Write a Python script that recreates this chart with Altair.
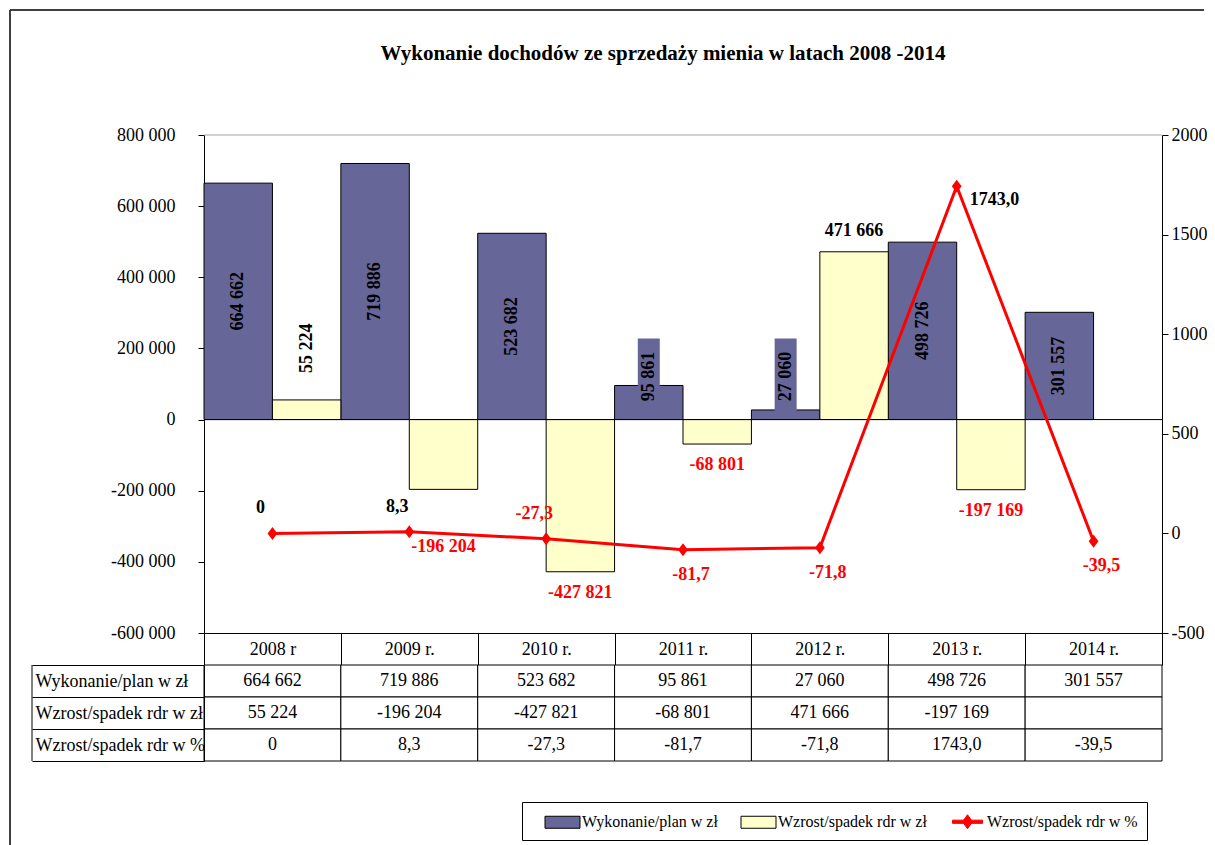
import altair as alt
import pandas as pd

# ---------------- data ----------------
years = ["2008 r", "2009 r.", "2010 r.", "2011 r.", "2012 r.", "2013 r.", "2014 r."]
wykonanie = [664662, 719886, 523682, 95861, 27060, 498726, 301557]
wzrost_zl = [55224, -196204, -427821, -68801, 471666, -197169, None]
wzrost_pct = [0.0, 8.3, -27.3, -81.7, -71.8, 1743.0, -39.5]

S_WYK = "Wykonanie/plan w zł"
S_ZL = "Wzrost/spadek rdr w zł"
S_PCT = "Wzrost/spadek rdr w %"
series_names = [S_WYK, S_ZL, S_PCT]

TITLE = "Wykonanie dochodów ze sprzedaży mienia w latach 2008 -2014"

# ---------------- style ----------------
FONT = "Liberation Serif"
DARK, YELLOW, RED = "#666699", "#FFFFCC", "#FF0000"
series_colors = [DARK, YELLOW, RED]
RECT_SYM = "M-1.75,-0.6H1.75V0.6H-1.75Z"
LINE_SYM = "M-1.5,-0.16H1.5V0.16H-1.5Z M0,-0.7L0.5,0L0,0.7L-0.5,0Z"
DIAMOND = "M0,-1L0.75,0L0,1L-0.75,0Z"
PLOT_H = 498
L_DOM = (-600000, 800000)
R_DOM = (-500, 2000)
PX_L = PLOT_H / (L_DOM[1] - L_DOM[0])
PX_R = PLOT_H / (R_DOM[1] - R_DOM[0])


def fmt_int(v):
    return f"{int(v):,}".replace(",", " ")


def fmt_pct(v):
    return "0" if v == 0 else f"{v:.1f}".replace(".", ",")


def left_px(v):
    return (L_DOM[1] - v) * PX_L


def right_px(p):
    return (R_DOM[1] - p) * PX_R


MINUS = "\u2212"
left_label_expr = f"replace(replace(format(datum.value, ','), ',', ' '), '{MINUS}', '-')"
right_label_expr = f"replace(format(datum.value, 'd'), '{MINUS}', '-')"

# ---------------- data frames ----------------
bar_rows = []
for y, v in zip(years, wykonanie):
    bar_rows.append({"year": y, "series": S_WYK, "value": v, "base": 0})
for y, v in zip(years, wzrost_zl):
    if v is not None:
        bar_rows.append({"year": y, "series": S_ZL, "value": v, "base": 0})
bars_df = pd.DataFrame(bar_rows)

# dark-bar labels: centred in bar, lifted when bar is too short
text_half = 31 / PX_L
min_center = 43 / PX_L
dl_rows = []
for y, v in zip(years, wykonanie):
    c = max(v / 2.0, min_center)
    dl_rows.append({"year": y, "series": S_WYK, "ly": c, "text": fmt_int(v),
                    "needs_box": (c + text_half) > v,
                    "box_top": c + 38 / PX_L, "base": 0})
dl_df = pd.DataFrame(dl_rows)
box_df = dl_df[dl_df["needs_box"]]

# yellow-bar labels; a negative label that would collide with the % line
# is moved just below the line
yl_rows = []
for y, v, p in zip(years, wzrost_zl, wzrost_pct):
    if v is None:
        continue
    if v >= 0:
        kind = "rot" if v < 100000 else "pos"
        anchor = v
    else:
        kind = "neg"
        top_px = left_px(v) + 12
        line_px = right_px(p)
        if 0 < line_px - top_px < 45:
            top_px = line_px + 6
        anchor = L_DOM[1] - top_px / PX_L
    yl_rows.append({"year": y, "series": S_ZL, "value": v, "anchor": anchor,
                    "text": fmt_int(v), "kind": kind})
yl_df = pd.DataFrame(yl_rows)

pmax = max(wzrost_pct)
pct_rows = []
for y, p in zip(years, wzrost_pct):
    grp = "peak" if p == pmax else ("above" if p > -30 else "below")
    pct_rows.append({"year": y, "pct": p, "text": fmt_pct(p), "grp": grp})
pct_df = pd.DataFrame(pct_rows)

one_df = pd.DataFrame({"top": [L_DOM[1]], "base": [0], "title": [TITLE]})
leg_df = pd.DataFrame({"series": series_names})

tbl_rows = []
for i, y in enumerate(years):
    tbl_rows.append({"year": y, "row": S_WYK, "text": fmt_int(wykonanie[i])})
    tbl_rows.append({"year": y, "row": S_ZL,
                     "text": fmt_int(wzrost_zl[i]) if wzrost_zl[i] is not None else ""})
    tbl_rows.append({"year": y, "row": S_PCT, "text": fmt_pct(wzrost_pct[i])})
tbl_df = pd.DataFrame(tbl_rows)

# ---------------- scales / axes ----------------
x_scale = alt.Scale(domain=years, paddingInner=0, paddingOuter=0)
x_axis = alt.Axis(title=None, orient="bottom", labelAngle=0, labelFont=FONT, labelFontSize=18,
                  labelColor="black", labelBaseline="middle", labelPadding=-16,
                  tickBand="extent", tickSize=32, tickColor="black", domainColor="black",
                  grid=False, labelOverlap=False)
X = alt.X("year:N", scale=x_scale, axis=x_axis)
XOFF = alt.XOffset("series:N", scale=alt.Scale(domain=[S_WYK, S_ZL], paddingInner=0, paddingOuter=0))

yl_scale = alt.Scale(domain=list(L_DOM), nice=False)
yl_axis = alt.Axis(title=None, orient="left", values=[-600000, -400000, -200000, 0, 200000, 400000, 600000, 800000],
                   labelExpr=left_label_expr, labelFont=FONT, labelFontSize=18, labelColor="black",
                   tickSize=6, tickColor="black", domainColor="black", labelPadding=23, grid=False)
yr_scale = alt.Scale(domain=list(R_DOM), nice=False)
yr_axis = alt.Axis(title=None, orient="right", values=[-500, 0, 500, 1000, 1500, 2000],
                   labelExpr=right_label_expr, labelFont=FONT, labelFontSize=18, labelColor="black",
                   tickSize=6, tickColor="black", domainColor="black", labelPadding=3, grid=False)

color_scale = alt.Scale(domain=series_names, range=series_colors)
legend = alt.Legend(title=None, orient="none", legendX=318, legendY=667, direction="horizontal",
                    columns=3, strokeColor="black", padding=9, labelFont=FONT, labelFontSize=16,
                    labelColor="black", symbolSize=400, symbolStrokeWidth=1, columnPadding=9,
                    symbolOffset=21, labelOffset=9, labelLimit=400, symbolOpacity=1)

def YL(field):
    return alt.Y(field, scale=yl_scale, axis=yl_axis)

def YR(field):
    return alt.Y(field, scale=yr_scale, axis=yr_axis)

# ---------------- left (bar) group ----------------
legend_layer = alt.Chart(leg_df).mark_point(filled=True, size=400, strokeWidth=1, opacity=1).encode(
    x=alt.value(34), y=alt.value(200),
    color=alt.Color("series:N", scale=color_scale, legend=legend),
    shape=alt.Shape("series:N", scale=alt.Scale(domain=series_names, range=[RECT_SYM, RECT_SYM, LINE_SYM]), legend=legend),
    stroke=alt.Stroke("series:N", scale=alt.Scale(domain=series_names, range=["black", "black", RED]), legend=legend),
)

bars = alt.Chart(bars_df).mark_bar(stroke="black", strokeWidth=1, opacity=1).encode(
    x=X, xOffset=XOFF, y=YL("value:Q"), y2="base:Q",
    color=alt.Color("series:N", scale=color_scale, legend=legend),
)

boxes = alt.Chart(box_df).mark_bar(width=22, fill=DARK, strokeWidth=0).encode(
    x=X, xOffset=XOFF, y=YL("box_top:Q"), y2="base:Q"
)

top_line = alt.Chart(one_df).mark_rule(color="#A6A6A6", strokeWidth=1).encode(y=YL("top:Q"))
zero_line = alt.Chart(one_df).mark_rule(color="black", strokeWidth=1).encode(y=YL("base:Q"))

dark_labels = alt.Chart(dl_df).mark_text(angle=270, font=FONT, fontSize=18, fontWeight="bold",
                                         color="black", align="center", baseline="middle").encode(
    x=X, xOffset=XOFF, y=YL("ly:Q"), text="text:N")

yl_rot = alt.Chart(yl_df).transform_filter("datum.kind == 'rot'").mark_text(
    angle=270, font=FONT, fontSize=18, fontWeight="bold", color="black", align="left",
    baseline="middle", dx=27).encode(x=X, xOffset=XOFF, y=YL("anchor:Q"), text="text:N")
yl_pos = alt.Chart(yl_df).transform_filter("datum.kind == 'pos'").mark_text(
    font=FONT, fontSize=18, fontWeight="bold", color="black", align="center",
    baseline="bottom", dy=-12).encode(x=X, xOffset=XOFF, y=YL("anchor:Q"), text="text:N")
yl_neg = alt.Chart(yl_df).transform_filter("datum.kind == 'neg'").mark_text(
    font=FONT, fontSize=18, fontWeight="bold", color=RED, align="center",
    baseline="top").encode(x=X, xOffset=XOFF, y=YL("anchor:Q"), text="text:N")

frame_top = alt.Chart(one_df).mark_rule(color="#404040", strokeWidth=2).encode(
    x=alt.value(-194), x2=alt.value(1000), y=alt.value(-125))
frame_left = alt.Chart(one_df).mark_rule(color="#404040", strokeWidth=2).encode(
    x=alt.value(-194), y=alt.value(-125), y2=alt.value(720))
title_text = alt.Chart(one_df).mark_text(font=FONT, fontSize=21, fontWeight="bold", color="black",
                                         align="center", baseline="alphabetic").encode(
    x=alt.value(459), y=alt.value(-75), text="title:N")

left = alt.layer(legend_layer, bars, boxes, top_line, zero_line, dark_labels,
                 yl_rot, yl_pos, yl_neg, frame_top, frame_left, title_text)

# ---------------- right (percent line) group ----------------
line = alt.Chart(pct_df).mark_line(color=RED, strokeWidth=3).encode(x=X, y=YR("pct:Q"))
pts = alt.Chart(pct_df).mark_point(shape=DIAMOND, filled=True, size=169, color=RED, opacity=1).encode(
    x=X, y=YR("pct:Q"))
lab_fill = alt.condition("datum.pct < 0", alt.value(RED), alt.value("black"))
lab_above = alt.Chart(pct_df).transform_filter("datum.grp == 'above'").mark_text(
    font=FONT, fontSize=18, fontWeight="bold", align="center", baseline="bottom", dx=-12, dy=-16).encode(
    x=X, y=YR("pct:Q"), text="text:N", fill=lab_fill)
lab_below = alt.Chart(pct_df).transform_filter("datum.grp == 'below'").mark_text(
    font=FONT, fontSize=18, fontWeight="bold", align="center", baseline="top", dx=8, dy=16).encode(
    x=X, y=YR("pct:Q"), text="text:N", fill=lab_fill)
lab_peak = alt.Chart(pct_df).transform_filter("datum.grp == 'peak'").mark_text(
    font=FONT, fontSize=18, fontWeight="bold", align="left", baseline="top", dx=13, dy=5).encode(
    x=X, y=YR("pct:Q"), text="text:N", fill=lab_fill)

right = alt.layer(line, pts, lab_above, lab_below, lab_peak)

main = alt.layer(left, right).resolve_scale(y="independent").properties(width=958, height=PLOT_H)

# ---------------- data table ----------------
XT = alt.X("year:N", scale=x_scale, axis=None)
YT = alt.Y("row:N", scale=alt.Scale(domain=series_names, paddingInner=0, paddingOuter=0),
           axis=alt.Axis(title=None, orient="left", labelAlign="left", labelPadding=-3, tickSize=172,
                         tickBand="extent", tickColor="black", domainColor="black", labelFont=FONT,
                         labelFontSize=18, labelColor="black", labelLimit=300, labelBaseline="middle",
                         grid=False))
cells = alt.Chart(tbl_df).mark_rect(fill="white", stroke="black", strokeWidth=1).encode(x=XT, y=YT)
cell_text = alt.Chart(tbl_df).mark_text(font=FONT, fontSize=18, color="black").encode(
    x=XT, y=YT, text="text:N")
vline = alt.Chart(one_df).mark_rule(color="black", strokeWidth=1).encode(
    x=alt.value(-172), y=alt.value(0), y2=alt.value(96))
table = alt.layer(cells, cell_text, vline).properties(width=958, height=96)

chart = alt.vconcat(main, table, spacing=32, bounds="flush").properties(
    padding={"left": 1, "top": 1, "right": 0, "bottom": 0}, background="white"
).configure_view(strokeWidth=0)

chart.save("out.html", embed_options={"renderer": "svg", "actions": False})
